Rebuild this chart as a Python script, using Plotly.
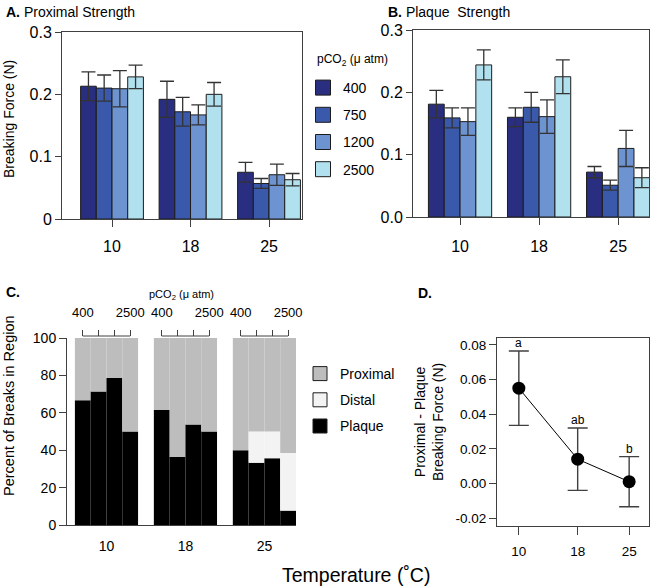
import plotly.graph_objects as go

# ---------------- data ----------------
temps = ["10", "18", "25"]
temps_num = [10, 18, 25]
pco2_levels = ["400", "750", "1200", "2500"]

# A. proximal thread breaking force (N): mean and error per temperature
prox_400 = [0.213, 0.192, 0.075]
prox_750 = [0.210, 0.172, 0.057]
prox_1200 = [0.209, 0.167, 0.071]
prox_2500 = [0.228, 0.200, 0.063]
prox_err_400 = [0.023, 0.029, 0.016]
prox_err_750 = [0.021, 0.023, 0.008]
prox_err_1200 = [0.029, 0.016, 0.017]
prox_err_2500 = [0.019, 0.019, 0.010]

# B. plaque breaking force (N)
plaq_400 = [0.181, 0.160, 0.072]
plaq_750 = [0.159, 0.176, 0.051]
plaq_1200 = [0.153, 0.161, 0.110]
plaq_2500 = [0.244, 0.225, 0.063]
plaq_err_400 = [0.022, 0.015, 0.009]
plaq_err_750 = [0.016, 0.024, 0.008]
plaq_err_1200 = [0.022, 0.027, 0.029]
plaq_err_2500 = [0.024, 0.027, 0.016]

# C. percent of breaks in region (per temperature, for each pCO2)
brk_plaque_400 = [66.7, 61.5, 40.0]
brk_plaque_750 = [71.4, 36.4, 33.3]
brk_plaque_1200 = [78.6, 53.8, 35.7]
brk_plaque_2500 = [50.0, 50.0, 7.7]
brk_distal_400 = [0.0, 0.0, 0.0]
brk_distal_750 = [0.0, 0.0, 16.7]
brk_distal_1200 = [0.0, 0.0, 14.3]
brk_distal_2500 = [0.0, 0.0, 30.8]
brk_prox_400 = [33.3, 38.5, 60.0]
brk_prox_750 = [28.6, 63.6, 50.0]
brk_prox_1200 = [21.4, 46.2, 50.0]
brk_prox_2500 = [50.0, 50.0, 61.5]
region_names = ["Plaque", "Distal", "Proximal"]

# D. proximal - plaque breaking force (N)
diff_mean = [0.055, 0.014, 0.001]
diff_err = [0.0215, 0.018, 0.0145]
diff_letters = ["a", "ab", "b"]

# tick labels
a_yticks = [0, 0.1, 0.2, 0.3]
a_yticktext = ["0", "0.1", "0.2", "0.3"]
b_yticktext = ["0.0", "0.1", "0.2", "0.3"]
c_yticks = [0, 20, 40, 60, 80, 100]
c_top_ticktext = ["400", "", "", "2500"]
d_yticks = [-0.02, 0.0, 0.02, 0.04, 0.06, 0.08]
d_yticktext = ["-0.02", "0.00", "0.02", "0.04", "0.06", "0.08"]

# ---------------- style ----------------
W, H = 651, 586
FONT = "Liberation Sans, Arial, Helvetica, sans-serif"
LC = "#404040"
bar_colors = ["#2a2e80", "#3a59ab", "#6d93d0", "#b1e0ee"]
region_colors = ["#000000", "#f3f3f3", "#bdbdbd"]


def px(x):
    return x / W


def py(y):
    return 1 - y / H


prox_mean = [prox_400, prox_750, prox_1200, prox_2500]
prox_err = [prox_err_400, prox_err_750, prox_err_1200, prox_err_2500]
plaq_mean = [plaq_400, plaq_750, plaq_1200, plaq_2500]
plaq_err = [plaq_err_400, plaq_err_750, plaq_err_1200, plaq_err_2500]
brk = [
    [brk_plaque_400, brk_distal_400, brk_prox_400],
    [brk_plaque_750, brk_distal_750, brk_prox_750],
    [brk_plaque_1200, brk_distal_1200, brk_prox_1200],
    [brk_plaque_2500, brk_distal_2500, brk_prox_2500],
]

fig = go.Figure()

# A & B bars
for j, lev in enumerate(pco2_levels):
    for ax, means, errs in (("", prox_mean, prox_err), ("2", plaq_mean, plaq_err)):
        fig.add_trace(go.Bar(
            x=temps, y=means[j], name=lev, offsetgroup=str(j),
            xaxis="x" + ax, yaxis="y" + ax, showlegend=False,
            marker=dict(color=bar_colors[j], line=dict(color="#1c1c1c", width=1)),
            error_y=dict(type="data", array=errs[j], color="#333333",
                         thickness=1.3, width=7),
        ))

# C stacked bars (manual stacking with base inside each offset group)
for j, lev in enumerate(pco2_levels):
    base = [0.0, 0.0, 0.0]
    for r, rname in enumerate(region_names):
        vals = brk[j][r]
        fig.add_trace(go.Bar(
            x=temps, y=vals, base=list(base), name=rname, offsetgroup=str(j),
            xaxis="x3", yaxis="y3", showlegend=False,
            marker=dict(color=region_colors[r], line=dict(width=0)),
        ))
        base = [b + v for b, v in zip(base, vals)]

# dummy trace so the top pCO2 axis of panel C is drawn
fig.add_trace(go.Scatter(x=[None], y=[None], xaxis="x4", yaxis="y3",
                         showlegend=False, hoverinfo="skip"))

# D points with error bars
fig.add_trace(go.Scatter(
    x=temps_num, y=diff_mean, mode="lines+markers", xaxis="x5", yaxis="y5",
    showlegend=False,
    line=dict(color="#000000", width=1),
    marker=dict(color="#000000", size=13),
    error_y=dict(type="data", array=diff_err, color="#404040", thickness=1.4, width=10),
))

# legend proxies
for j, lev in enumerate(pco2_levels):
    fig.add_trace(go.Scatter(
        x=[None], y=[None], mode="markers", name=lev, legend="legend",
        legendgroup="p" + lev, xaxis="x", yaxis="y",
        marker=dict(symbol="square", size=15, color=bar_colors[j],
                    line=dict(color="#1c1c1c", width=1)),
    ))
for r in (2, 1, 0):
    fig.add_trace(go.Scatter(
        x=[None], y=[None], mode="markers", name=region_names[r], legend="legend2",
        legendgroup="r" + region_names[r], xaxis="x3", yaxis="y3",
        marker=dict(symbol="square", size=14, color=region_colors[r],
                    line=dict(color="#1c1c1c", width=1)),
    ))

# ---------------- layout ----------------
common = dict(showgrid=False, zeroline=False, linecolor=LC, tickcolor=LC,
              linewidth=1, tickwidth=1, automargin=False)

annotations = [
    dict(text="<b>A.</b> Proximal Strength", x=px(4), y=py(12), xanchor="left",
         yanchor="middle", font=dict(size=14)),
    dict(text="<b>B.</b> Plaque\u00a0 Strength", x=px(386), y=py(12), xanchor="left",
         yanchor="middle", font=dict(size=14)),
    dict(text="<b>C.</b>", x=px(4), y=py(292), xanchor="left", yanchor="middle",
         font=dict(size=14)),
    dict(text="<b>D.</b>", x=px(416), y=py(293), xanchor="left", yanchor="middle",
         font=dict(size=14)),
    dict(text="Breaking Force (N)", textangle=-90, x=px(9), y=py(119),
         xanchor="center", yanchor="middle", font=dict(size=14)),
    dict(text="Percent of Breaks in Region", textangle=-90, x=px(9), y=py(406),
         xanchor="center", yanchor="middle", font=dict(size=14.5)),
    dict(text="Proximal - Plaque<br>Breaking Force (N)", textangle=-90, x=px(429),
         y=py(422), xanchor="center", yanchor="middle", font=dict(size=14)),
    dict(text="pCO<sub>2</sub> (\u03bc atm)", x=px(182), y=py(295), xanchor="center",
         yanchor="middle", font=dict(size=11)),
    dict(text="pCO<sub>2</sub> (\u03bc atm)", x=px(315), y=py(60), xanchor="left",
         yanchor="middle", font=dict(size=12)),
    dict(text="Temperature (\u02daC)", x=px(356), y=py(575), xanchor="center",
         yanchor="middle", font=dict(size=19.5)),
]
for t, m, e, lab in zip(temps_num, diff_mean, diff_err, diff_letters):
    annotations.append(dict(text=lab, x=t, y=m + e, xref="x5", yref="y5",
                            yanchor="bottom", yshift=-1, font=dict(size=12)))
for a in annotations:
    a.setdefault("xref", "paper")
    a.setdefault("yref", "paper")
    a["showarrow"] = False

# brackets on the top pCO2 axis of panel C
bar_offsets = [(j - (len(pco2_levels) - 1) / 2) * 0.2 for j in range(len(pco2_levels))]
shapes = []
for g in range(len(temps)):
    shapes.append(dict(type="line", xref="x4", yref="paper",
                       x0=g + bar_offsets[0], x1=g + bar_offsets[-1],
                       y0=py(336), y1=py(336), line=dict(color=LC, width=1)))
top_tickvals = [g + o for g in range(len(temps)) for o in bar_offsets]
top_ticktext = c_top_ticktext * len(temps)

fig.update_layout(
    width=W, height=H, margin=dict(l=0, r=0, t=0, b=0, pad=0, autoexpand=False),
    paper_bgcolor="white", plot_bgcolor="white",
    font=dict(family=FONT, color="#000000", size=14),
    barmode="group", bargap=0.2, bargroupgap=0,
    showlegend=True,
    xaxis=dict(domain=[px(62), px(302)], anchor="y", type="category",
               range=[-0.637, 2.42], showline=True, mirror=True, ticks="outside",
               ticklen=7, tickfont=dict(size=16), ticklabelstandoff=6, **common),
    yaxis=dict(domain=[py(219), py(32)], anchor="x", range=[0, 0.3],
               tickvals=a_yticks, ticktext=a_yticktext, showline=True, mirror=True,
               ticks="outside", ticklen=6, tickfont=dict(size=16), **common),
    xaxis2=dict(domain=[px(413), px(649)], anchor="y2", type="category",
                range=[-0.595, 2.39], showline=True, mirror=True, ticks="outside",
                ticklen=7, tickfont=dict(size=16), ticklabelstandoff=8, **common),
    yaxis2=dict(domain=[py(217), py(30)], anchor="x2", range=[0, 0.3],
                tickvals=a_yticks, ticktext=b_yticktext, showline=True, mirror=True,
                ticks="outside", ticklen=6, tickfont=dict(size=16), **common),
    xaxis3=dict(domain=[px(67), px(296)], anchor="y3", type="category",
                range=[-0.5, 2.4], showline=True, ticks="",
                tickfont=dict(size=14), ticklabelstandoff=8, **common),
    yaxis3=dict(domain=[py(525), py(338)], anchor="x3", range=[0, 100],
                tickvals=c_yticks, showline=True, ticks="outside", ticklen=7,
                tickfont=dict(size=14), **common),
    xaxis4=dict(overlaying="x3", side="top", anchor="free", position=py(336),
                range=[-0.5, 2.4], tickvals=top_tickvals, ticktext=top_ticktext,
                showline=False, ticks="outside", ticklen=6,
                tickfont=dict(size=13), ticklabelstandoff=8, **common),
    xaxis5=dict(domain=[px(497), px(649)], anchor="y5", range=[7.03, 27.7],
                tickvals=temps_num, ticktext=temps, showline=True, mirror=True,
                ticks="outside", ticklen=8, tickfont=dict(size=13.5),
                ticklabelstandoff=5, **common),
    yaxis5=dict(domain=[py(526), py(338)], anchor="x5", range=[-0.0246, 0.084],
                tickvals=d_yticks, ticktext=d_yticktext, showline=True, mirror=True,
                ticks="outside", ticklen=7, tickfont=dict(size=13.5), **common),
    legend=dict(x=px(303), y=py(72), xanchor="left", yanchor="top",
                bgcolor="rgba(0,0,0,0)", font=dict(size=14), tracegroupgap=6),
    legend2=dict(x=px(300), y=py(358), xanchor="left", yanchor="top",
                 bgcolor="rgba(0,0,0,0)", font=dict(size=14), tracegroupgap=5),
    annotations=annotations,
    shapes=shapes,
)

fig.write_html(
    "out.html",
    config={"displayModeBar": False, "staticPlot": True},
    post_script="document.body.style.margin='0px';document.body.style.overflow='hidden';",
)
